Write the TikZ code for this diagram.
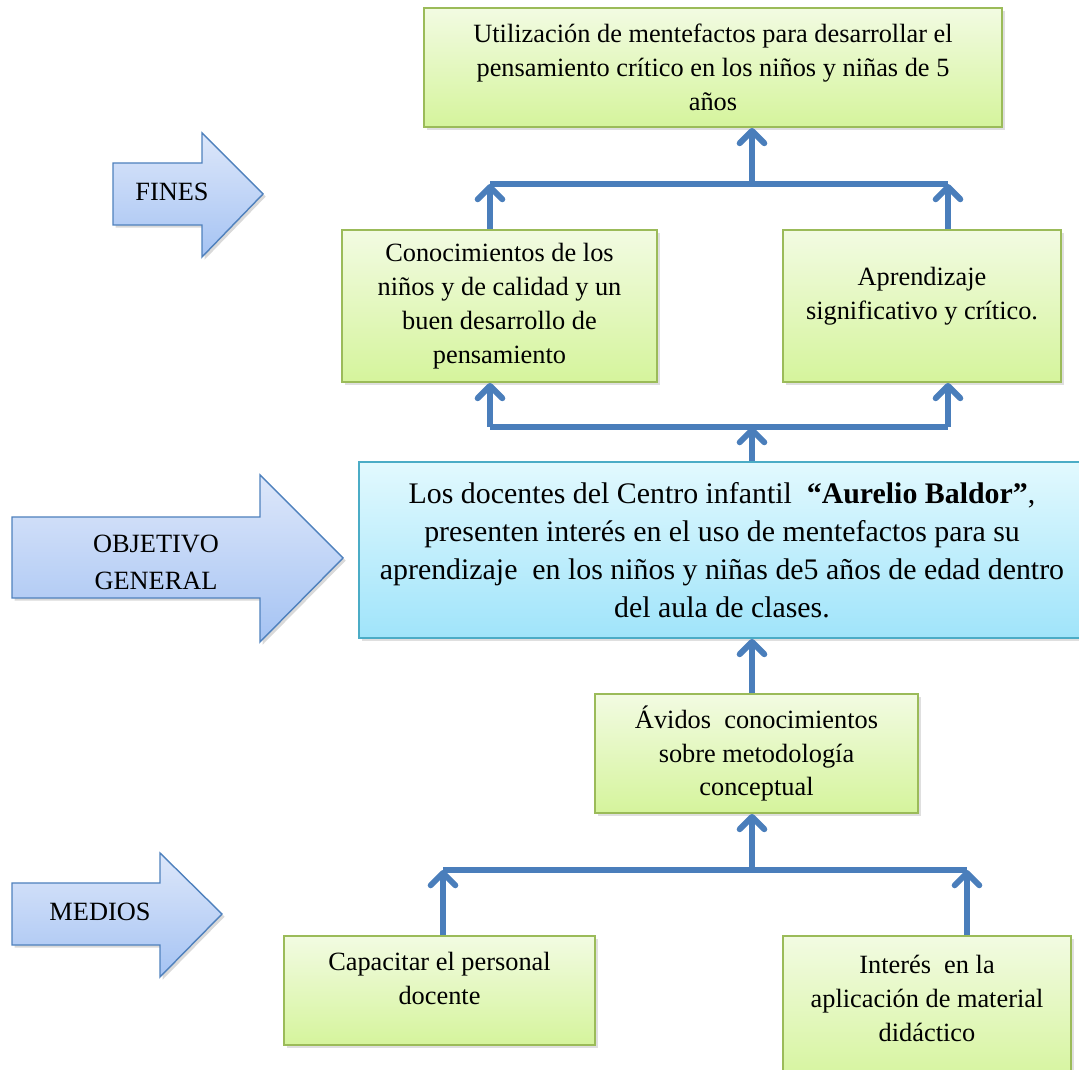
\documentclass[tikz,border=0pt]{standalone}
\usepackage{fontspec}
\setmainfont{Liberation Serif}
\usetikzlibrary{arrows.meta,shadows}

\definecolor{greenline}{HTML}{9BBB59}
\definecolor{greentop}{HTML}{F2FBE2}
\definecolor{greenbot}{HTML}{D5F49C}
\definecolor{blueline}{HTML}{4BACC6}
\definecolor{bluetop}{HTML}{E2F9FE}
\definecolor{bluebot}{HTML}{A0E4FA}
\definecolor{arrowline}{HTML}{4F81BD}
\definecolor{arrowtop}{HTML}{DDE7FA}
\definecolor{arrowbot}{HTML}{A5C3F3}
\definecolor{connblue}{HTML}{4A7EBB}

\tikzset{
    greenbox/.style={draw=greenline, line width=1.1pt, top color=greentop, bottom color=greenbot,
        align=center, font=\fontsize{15pt}{19.3pt}\selectfont,
        drop shadow={opacity=.25, shadow xshift=1.5pt, shadow yshift=-1.5pt}},
    bluebox/.style={draw=blueline, line width=1.1pt, top color=bluetop, bottom color=bluebot,
        align=center, font=\fontsize{17pt}{21.6pt}\selectfont,
        drop shadow={opacity=.25, shadow xshift=1.5pt, shadow yshift=-1.5pt}},
    bigarrow/.style={draw=arrowline, line width=.8pt, top color=arrowtop, bottom color=arrowbot,
        drop shadow={opacity=.3, shadow xshift=1.5pt, shadow yshift=-1.5pt}},
    arrowtext/.style={align=center, font=\fontsize{15pt}{21pt}\selectfont},
    conn/.style={draw=connblue, line width=3.4pt},
    upconn/.style={conn, -{Straight Barb[length=7pt, width=14pt, round]}}
}

\begin{document}
\begin{tikzpicture}[x=0.02cm, y=-0.02cm]
    \useasboundingbox (0, 0) rectangle (1079, 1070);

    % big arrows on the left
    \path[bigarrow] (113, 163) -- (202, 163) -- (202, 133) -- (263, 194) -- (202, 257) -- (202, 225) -- (113, 225) -- cycle;
    \path[bigarrow] (12, 517) -- (260, 517) -- (260, 475) -- (343, 558) -- (260, 642) -- (260, 598) -- (12, 598) -- cycle;
    \path[bigarrow] (12, 883) -- (160, 883) -- (160, 853) -- (222, 914) -- (160, 977) -- (160, 945) -- (12, 945) -- cycle;
    \node[arrowtext] (fines) at (172, 192) {FINES};
    \node[arrowtext] (objgen) at (156, 562) {OBJETIVO\\GENERAL};
    \node[arrowtext] (medios) at (100, 912) {MEDIOS};

    % boxes
    \node[greenbox, minimum width=11.56cm, minimum height=2.38cm] (utilizacion) at (713, 67.5)
        {Utilización de mentefactos para desarrollar el\\pensamiento crítico en los niños y niñas de 5\\años};
    \node[greenbox, minimum width=6.3cm, minimum height=3.04cm] (conocimientos) at (499.5, 306)
        {Conocimientos de los\\niños y de calidad y un\\buen desarrollo de\\pensamiento};
    \node[greenbox, minimum width=5.56cm, minimum height=3.04cm, text depth=14pt] (aprendizaje) at (922, 306)
        {Aprendizaje\\significativo y crítico.};
    \node[bluebox, minimum width=14.52cm, minimum height=3.52cm] (objetivo) at (722, 550)
        {Los docentes del Centro infantil \ \textbf{“Aurelio Baldor”},\\presenten interés en el uso de mentefactos para su\\aprendizaje \ en los niños y niñas de5 años de edad dentro\\del aula de clases.};
    \node[greenbox, minimum width=6.46cm, minimum height=2.38cm] (avidos) at (756.5, 753.5)
        {Ávidos \ conocimientos\\sobre metodología\\conceptual};
    \node[greenbox, minimum width=6.22cm, minimum height=2.18cm, text depth=14pt] (capacitar) at (439.5, 990.5)
        {Capacitar el personal\\docente};
    \node[greenbox, minimum width=5.76cm, minimum height=2.98cm, text depth=14pt] (interes) at (927, 1010.5)
        {Interés \ en la\\aplicación de material\\didáctico};

    % connectors
    \coordinate (topl) at (490, 184);
    \coordinate (topm) at (752, 184);
    \coordinate (topr) at (948, 184);
    \coordinate (midl) at (490, 427);
    \coordinate (midm) at (752, 427);
    \coordinate (midr) at (948, 427);
    \coordinate (lowl) at (443, 870);
    \coordinate (lowm) at (752, 870);
    \coordinate (lowr) at (967, 870);

    \draw[conn] (topl) -- (topr);
    \draw[upconn] (topm) -- (utilizacion.south -| topm);
    \draw[upconn] (conocimientos.north -| topl) -- (topl);
    \draw[upconn] (aprendizaje.north -| topr) -- (topr);

    \draw[conn] (midl) -- (midr);
    \draw[upconn] (midl) -- (conocimientos.south -| midl);
    \draw[upconn] (midr) -- (aprendizaje.south -| midr);
    \draw[upconn] (objetivo.north -| midm) -- (midm);

    \draw[upconn] (avidos.north -| midm) -- (objetivo.south -| midm);

    \draw[conn] (lowl) -- (lowr);
    \draw[upconn] (lowm) -- (avidos.south -| lowm);
    \draw[upconn] (capacitar.north -| lowl) -- (lowl);
    \draw[upconn] (interes.north -| lowr) -- (lowr);
\end{tikzpicture}
\end{document}
